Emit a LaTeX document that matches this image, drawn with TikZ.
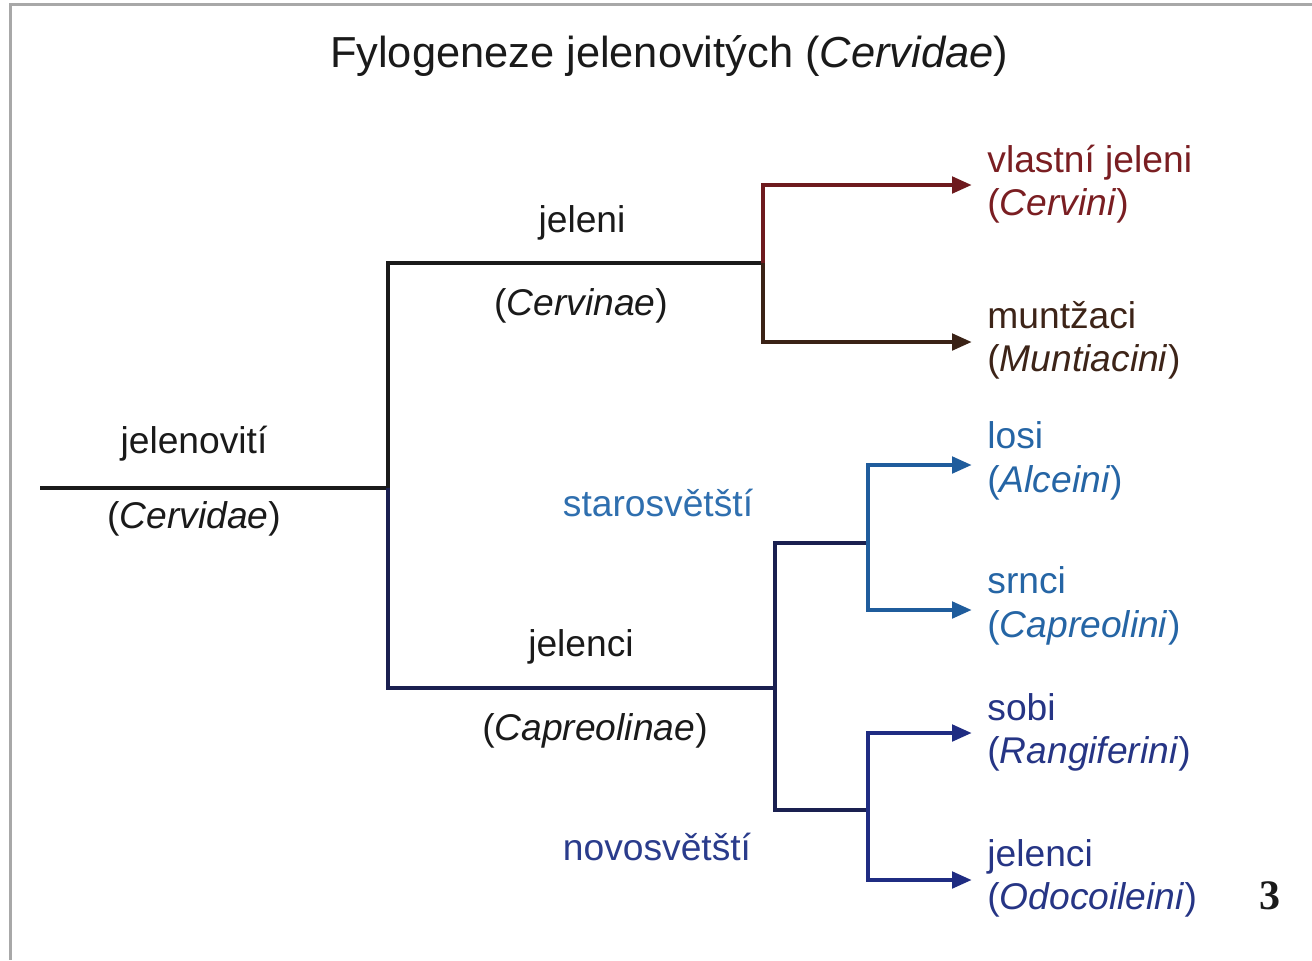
\documentclass[tikz,border=0pt]{standalone}
\usepackage{fontspec}
\setmainfont{Liberation Sans}
\newfontfamily\numfont{Liberation Serif}
\usetikzlibrary{arrows.meta}
\definecolor{frameg}{HTML}{A8A8A8}
\definecolor{txtk}{HTML}{1A1A1A}
\definecolor{cervred}{HTML}{6E1A1E}
\definecolor{muntbrown}{HTML}{3A2216}
\definecolor{capnavy}{HTML}{1A2050}
\definecolor{oldblue}{HTML}{1F5C9C}
\definecolor{newnavy}{HTML}{1F2C82}
\definecolor{oldtxt}{HTML}{2F6FAF}
\definecolor{newtxt}{HTML}{2A3C8C}
\definecolor{leafred}{HTML}{7A1E22}
\definecolor{leafbrown}{HTML}{3D2418}
\definecolor{leafblue}{HTML}{2565A5}
\definecolor{leafnavy}{HTML}{263585}
\begin{document}
\begin{tikzpicture}[x=0.5pt,y=-0.5pt,
  branch/.style={line width=2.4pt,line join=miter},
  tipbranch/.style={branch,-{Triangle[length=10pt,width=8pt]}},
  lab/.style={font=\fontsize{18.6}{21.5}\selectfont,inner sep=0pt},
  leaf/.style={lab,anchor=base west}]
\useasboundingbox (0,0) rectangle (1312,960);
\fill[white] (0,0) rectangle (1312,960);
% frame
\draw[frameg,line width=1.5pt] (10,960) -- (10,4) -- (1312,4);
% title
\node[lab,anchor=base,font=\fontsize{21.7}{25}\selectfont,txtk] (title) at (669,67) {Fylogeneze jelenovitých (\textit{Cervidae})};
% junction coordinates
\coordinate (root) at (40,488);
\coordinate (n1) at (388,488);
\coordinate (cervJ) at (763,263);
\coordinate (capJ) at (775,688);
\coordinate (oldJ) at (868,543);
\coordinate (newJ) at (868,810);
\coordinate (tCerv) at (972,185);
\coordinate (tMunt) at (972,342);
\coordinate (tAlc) at (972,465);
\coordinate (tCap) at (972,610);
\coordinate (tRang) at (972,733);
\coordinate (tOdo) at (972,880);
% tree
\draw[branch,txtk] (root) -- (n1);
\draw[branch,txtk] (n1) |- (cervJ);
\draw[branch,capnavy] (n1) |- (capJ);
\draw[tipbranch,cervred] (cervJ) |- (tCerv);
\draw[tipbranch,muntbrown] (cervJ) |- (tMunt);
\draw[branch,capnavy] (capJ) |- (oldJ);
\draw[branch,capnavy] (capJ) |- (newJ);
\draw[tipbranch,oldblue] (oldJ) |- (tAlc);
\draw[tipbranch,oldblue] (oldJ) |- (tCap);
\draw[tipbranch,newnavy] (newJ) |- (tRang);
\draw[tipbranch,newnavy] (newJ) |- (tOdo);
% clade labels
\node[lab,anchor=base,txtk] (jelenoviti) at (194,453) {jelenovití};
\node[lab,anchor=base,txtk] (cervidae) at (194,528) {(\textit{Cervidae})};
\node[lab,anchor=base,txtk] (jeleni) at (582,232) {jeleni};
\node[lab,anchor=base,txtk] (cervinae) at (581,315) {(\textit{Cervinae})};
\node[lab,anchor=base,oldtxt] (staro) at (658,516) {starosvětští};
\node[lab,anchor=base,txtk] (jelenci) at (581,656) {jelenci};
\node[lab,anchor=base,txtk] (capreolinae) at (595,740) {(\textit{Capreolinae})};
\node[lab,anchor=base,newtxt] (novo) at (657,860) {novosvětští};
% leaf labels
\node[leaf,leafred] (cerv1) at (987,172) {vlastní jeleni};
\node[leaf,leafred] (cerv2) at (987,215) {(\textit{Cervini})};
\node[leaf,leafbrown] (munt1) at (987,328) {muntžaci};
\node[leaf,leafbrown] (munt2) at (987,371) {(\textit{Muntiacini})};
\node[leaf,leafblue] (alc1) at (987,448) {losi};
\node[leaf,leafblue] (alc2) at (987,492) {(\textit{Alceini})};
\node[leaf,leafblue] (cap1) at (987,593) {srnci};
\node[leaf,leafblue] (cap2) at (987,637) {(\textit{Capreolini})};
\node[leaf,leafnavy] (rang1) at (987,720) {sobi};
\node[leaf,leafnavy] (rang2) at (987,763) {(\textit{Rangiferini})};
\node[leaf,leafnavy] (odo1) at (987,866) {jelenci};
\node[leaf,leafnavy] (odo2) at (987,909) {(\textit{Odocoileini})};
% page number
\node[inner sep=0pt,anchor=base,font=\numfont\bfseries\fontsize{21}{24}\selectfont,txtk] (pagenum) at (1270,909) {3};
\end{tikzpicture}
\end{document}
